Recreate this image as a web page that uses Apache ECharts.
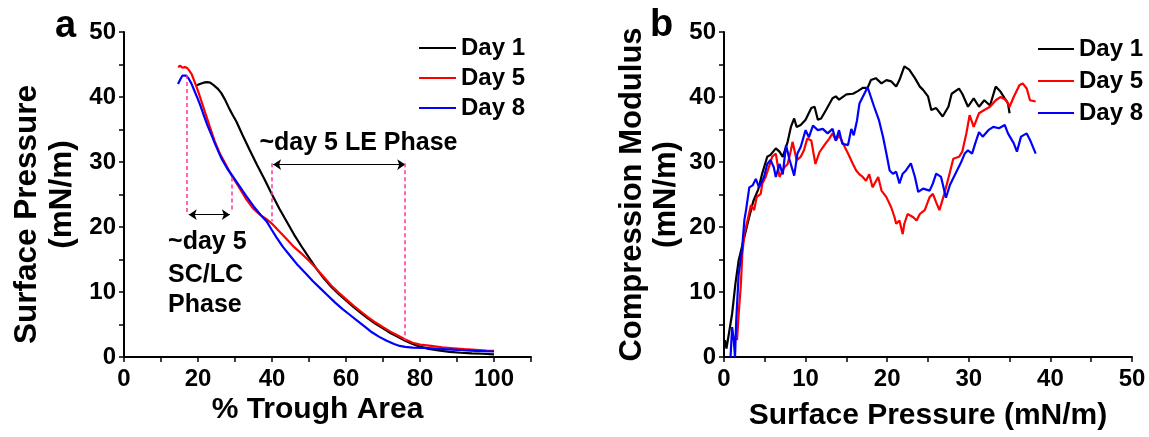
<!DOCTYPE html>
<html><head><meta charset="utf-8">
<script src="https://cdn.jsdelivr.net/npm/echarts@6/dist/echarts.min.js"></script>
<style>html,body{margin:0;padding:0;background:#fff}#c{width:1149px;height:437px}</style>
</head><body><div id="c"></div>
<script>
const seriesNames = ['Day 1', 'Day 5', 'Day 8'];
const seriesColors = ['#000000', '#ff0000', '#0000ff'];

// Panel a: % trough area vs surface pressure
const day1A = [[19.7,41.8],[20.5,42.0],[21.5,42.2],[22.4,42.3],[23.3,42.2],[24.3,41.8],[25.3,41.3],[26.3,40.6],[27.3,39.6],[28.3,38.4],[29.3,37.3],[30.4,36.2],[32,34.2],[34,31.8],[36,29.5],[38,27.3],[40,25.0],[42,22.8],[44,20.8],[46,18.8],[48,17.0],[50,15.3],[52,13.6],[54,12.1],[56,10.8],[58,9.7],[60,8.7],[62,7.7],[64,6.8],[66,5.9],[68,5.1],[70,4.4],[72,3.7],[74,3.1],[76,2.5],[78,2.0],[80,1.6],[82,1.3],[85,1.0],[88,0.8],[91,0.65],[94,0.55],[97,0.5],[100,0.4]];
const day5A = [[14.6,44.6],[15.2,44.8],[15.8,44.5],[16.4,44.6],[17.0,44.5],[17.6,44.1],[18.3,43.5],[18.9,42.6],[19.5,41.7],[20.2,40.6],[21,39.2],[22,37.5],[23.2,35.4],[24.5,33.2],[25.9,31.3],[27.5,29.6],[29,28.0],[31,26.2],[33,24.3],[35,22.8],[37,21.8],[38.5,21.2],[40.2,20.4],[42,19.3],[44,18.1],[46,16.9],[48,15.9],[50,14.8],[52,13.6],[54,12.3],[56,11.0],[58,9.9],[60,8.9],[62,7.9],[64,7.0],[66,6.1],[68,5.3],[70,4.6],[72,3.9],[74,3.3],[76,2.7],[78,2.2],[80,1.9],[83,1.7],[86,1.5],[89,1.35],[92,1.2],[95,1.1],[98,1.0],[100,0.95]];
const day8A = [[14.6,42.0],[15.2,42.7],[15.8,43.3],[16.3,43.6],[16.8,43.3],[17.5,42.8],[18.2,42.1],[19.0,41.0],[19.8,39.9],[20.5,38.9],[21.5,37.3],[22.5,35.7],[23.6,34.2],[24.9,32.4],[26.3,30.6],[27.9,29.0],[29.5,27.7],[31.3,26.2],[33,24.8],[35,23.2],[37,21.8],[38.5,20.9],[40,19.5],[41.2,18.4],[43,16.9],[45,15.5],[47,14.1],[49.2,12.8],[51,11.7],[53,10.6],[55,9.5],[57,8.4],[59,7.4],[61,6.5],[63,5.6],[65,4.7],[67,3.8],[69,3.1],[71,2.5],[73,2.0],[74.5,1.7],[76,1.55],[78,1.45],[81,1.4],[85,1.25],[90,1.1],[95,0.95],[100,0.85]];

// Panel b: surface pressure vs compression modulus
const day1B = [[0.12,2.6],[0.3,1.3],[0.6,3.6],[1.0,6.7],[1.4,11.3],[1.8,14.9],[2.5,18.5],[3.1,21.6],[3.6,24.0],[4.2,25.8],[4.7,28.3],[5.3,30.8],[5.7,31.1],[6.35,32.1],[6.8,31.6],[7.2,30.8],[7.8,33.1],[8.2,35.4],[8.6,36.7],[8.9,35.4],[9.4,35.7],[10.0,36.5],[10.7,38.3],[11.1,38.5],[11.5,36.5],[11.9,36.7],[12.5,38.0],[13.3,39.8],[13.7,40.1],[14.1,39.6],[15.0,40.4],[15.8,40.5],[16.4,40.9],[17.0,41.4],[17.6,41.4],[18.0,42.6],[18.6,42.9],[19.3,42.1],[19.9,42.6],[20.5,42.4],[21.1,41.6],[21.5,42.6],[22.1,44.7],[22.7,44.2],[23.4,42.9],[24.0,41.6],[24.4,41.1],[25.0,40.1],[25.4,38.0],[26.0,38.3],[26.8,37.0],[27.5,38.5],[27.9,40.5],[28.8,41.3],[29.2,40.5],[29.9,38.5],[30.6,39.8],[31.25,38.5],[31.9,39.5],[32.6,38.7],[33.3,41.6],[33.9,40.8],[34.8,39.0],[35.0,37.5]];
const day5B = [[1.6,2.6],[1.8,6.7],[2.05,10.8],[2.25,15.9],[2.5,19.0],[2.9,21.1],[3.3,23.4],[3.7,22.6],[4.0,24.6],[4.5,25.1],[4.7,26.7],[5.1,27.7],[5.5,29.2],[5.9,30.8],[6.35,31.3],[6.8,27.7],[7.4,29.2],[7.8,29.7],[8.2,31.8],[8.4,33.1],[8.9,30.3],[9.4,30.8],[9.8,31.8],[10.2,33.6],[10.7,33.3],[11.2,29.7],[11.7,31.5],[12.3,32.6],[12.9,33.6],[13.3,34.4],[13.7,33.3],[14.1,34.1],[14.8,32.3],[15.2,31.3],[15.8,29.7],[16.2,28.7],[16.6,28.1],[17.0,27.7],[17.4,27.1],[17.8,28.1],[18.2,26.1],[18.9,27.7],[19.3,25.6],[19.9,24.6],[20.5,23.0],[20.9,21.5],[21.1,20.5],[21.5,21.0],[21.9,18.9],[22.1,20.5],[22.5,22.0],[23.2,21.5],[23.6,21.0],[24.0,22.0],[24.6,22.6],[25.2,24.6],[25.6,25.1],[26.0,23.8],[26.4,22.6],[27.0,25.1],[27.6,28.0],[28.1,30.5],[28.8,30.8],[29.2,31.6],[29.7,34.4],[30.1,37.2],[30.6,35.4],[31.25,37.5],[31.9,38.0],[32.6,38.5],[33.3,39.5],[33.9,40.0],[34.6,39.5],[35.0,38.5],[35.5,40.0],[36.2,41.8],[36.6,42.1],[37.1,41.3],[37.5,39.5],[38.2,39.3]];
const day8B = [[0.8,0],[1.0,4.6],[1.2,2.6],[1.35,0],[1.5,5.6],[1.8,12.8],[2.2,16.4],[2.5,21.1],[2.7,22.6],[3.1,26.1],[3.5,26.4],[3.9,27.4],[4.3,26.1],[4.9,27.7],[5.3,29.7],[5.7,30.3],[6.1,29.2],[6.35,27.7],[6.8,29.7],[7.2,28.1],[7.6,32.6],[8.0,30.5],[8.6,27.9],[9.0,31.3],[9.4,32.3],[10.0,34.9],[10.4,33.8],[10.9,35.6],[11.5,34.9],[12.1,35.1],[12.7,34.4],[13.3,35.1],[13.7,33.3],[14.1,34.9],[14.5,32.8],[15.2,32.6],[15.6,35.1],[15.9,34.1],[16.3,36.4],[16.6,39.0],[17.0,40.0],[17.6,41.5],[18.0,40.0],[18.4,38.5],[19.0,36.4],[19.5,33.8],[19.9,31.3],[20.3,28.7],[20.7,28.2],[21.1,28.5],[21.5,26.7],[21.9,28.2],[22.3,28.7],[22.9,29.8],[23.4,27.7],[23.8,25.4],[24.4,25.9],[25.2,25.6],[25.6,26.7],[26.0,28.2],[26.6,27.7],[27.2,24.5],[27.7,26.5],[28.6,28.8],[29.0,29.8],[29.5,31.3],[29.9,31.8],[30.4,31.3],[30.8,32.9],[31.25,34.6],[31.7,33.9],[32.4,34.9],[33.0,35.4],[33.7,35.2],[34.4,35.7],[34.8,34.4],[35.5,32.9],[35.9,31.6],[36.4,33.9],[37.1,34.4],[37.5,33.4],[38.2,31.3]];

// Tick labels
const xLabelsA = [0, 20, 40, 60, 80, 100];
const xLabelsB = [0, 10, 20, 30, 40, 50];
const yLabels = [0, 10, 20, 30, 40, 50];

// Panel a annotations (data coordinates)
const phaseDashA = [[[16.9, 43.4], [16.9, 22.3]], [[29.0, 27.6], [29.0, 22.3]], [[40.0, 29.8], [40.0, 20.9]], [[76.0, 29.8], [76.0, 2.6]]];
const phaseArrowsA = [[[17.5, 21.9], [28.6, 21.9]], [[40.3, 29.6], [76.0, 29.6]]];
const annTextA = ['~day 5 LE Phase', '~day 5', 'SC/LC', 'Phase'];
const annXA = [36.6, 11.9, 11.9, 11.9];
const annYA = [32.9, 17.7, 12.6, 8.0];

const FONT = "'Liberation Sans', Arial, Helvetica, sans-serif";

function axis(extra, labels, margin) {
  return Object.assign({
    type: 'value',
    splitLine: { show: false },
    axisLine: { show: true, onZero: false, lineStyle: { color: '#000', width: 2 } },
    axisTick: { show: true, inside: false, length: 5, lineStyle: { color: '#000', width: 1.5 } },
    axisLabel: {
      color: '#000', fontSize: 24, fontWeight: 'bold', fontFamily: FONT, margin: margin,
      formatter: v => labels.indexOf(v) >= 0 ? String(v) : ''
    },
    nameMoveOverlap: false
  }, extra);
}

const nameStyle = { color: '#000', fontSize: 30, fontWeight: 'bold', fontFamily: FONT };

const chart = echarts.init(document.getElementById('c'));
const lineSeries = [];
[[day1A, day5A, day8A], [day1B, day5B, day8B]].forEach((set, gi) => {
  set.forEach((d, si) => {
    lineSeries.push({
      type: 'line', name: seriesNames[si], xAxisIndex: gi, yAxisIndex: gi,
      data: d, symbol: 'none', showSymbol: false, animation: false, silent: true,
      lineStyle: { color: seriesColors[si], width: 2.2 }, itemStyle: { color: seriesColors[si] },
      z: 2 + si
    });
  });
});

lineSeries[1].markLine = {
  silent: true, animation: false, symbol: ['none', 'none'],
  label: { show: false },
  lineStyle: { color: '#ff3399', width: 1.5, type: [4, 3] },
  data: phaseDashA.map(p => [{ coord: p[0] }, { coord: p[1] }])
};
lineSeries[0].markLine = {
  silent: true, animation: false, symbol: ['arrow', 'arrow'], symbolSize: 8,
  label: { show: false },
  lineStyle: { color: '#000', width: 1, type: 'solid' },
  data: phaseArrowsA.map(p => [{ coord: p[0] }, { coord: p[1] }])
};

const legendBase = {
  data: seriesNames, orient: 'vertical', itemHeight: 2, icon: 'rect',
  textStyle: { color: '#000', fontSize: 24, fontWeight: 'bold', fontFamily: FONT, lineHeight: 24 },
  selectedMode: false, padding: 0
};

chart.setOption({
  backgroundColor: '#fff',
  animation: false,
  title: [
    { text: 'a', left: 55, top: 8, padding: 0, textStyle: { fontSize: 38, fontWeight: 'bold', color: '#000', fontFamily: FONT } },
    { text: 'b', left: 650, top: 7, padding: 0, textStyle: { fontSize: 38, fontWeight: 'bold', color: '#000', fontFamily: FONT } }
  ],
  legend: [
    Object.assign({}, legendBase, { left: 419, top: 36, itemWidth: 37, itemGap: 6 }),
    Object.assign({}, legendBase, { left: 1038, top: 37, itemWidth: 36, itemGap: 8 })
  ],
  grid: [
    { left: 124, top: 32, width: 407, height: 325, containLabel: false, outerBoundsMode: 'none' },
    { left: 724, top: 32, width: 408, height: 325, containLabel: false, outerBoundsMode: 'none' }
  ],
  xAxis: [
    axis({ gridIndex: 0, min: 0, max: 110, interval: 10, name: '% Trough Area', nameLocation: 'middle', nameGap: 38,
      nameTextStyle: Object.assign({}, nameStyle, { padding: [0, 20, 0, 0] }) }, xLabelsA, 10),
    axis({ gridIndex: 1, min: 0, max: 50, interval: 5, name: 'Surface Pressure (mN/m)', nameLocation: 'middle', nameGap: 44,
      nameTextStyle: nameStyle }, xLabelsB, 10)
  ],
  yAxis: [
    axis({ gridIndex: 0, min: 0, max: 50, interval: 5, name: '{a|Surface Pressure}\n{b|(mN/m)}', nameLocation: 'middle',
      nameRotate: 90, nameGap: 44,
      nameTextStyle: { rich: {
        a: Object.assign({}, nameStyle, { fontSize: 31.5, lineHeight: 35, padding: [0, 40, 0, 0] }),
        b: Object.assign({}, nameStyle, { fontSize: 31.5, lineHeight: 35 }) } } }, yLabels, 8),
    axis({ gridIndex: 1, min: 0, max: 50, interval: 5, name: '{a|Compression Modulus}\n{b|(mN/m)}', nameLocation: 'middle',
      nameRotate: 90, nameGap: 41,
      nameTextStyle: { rich: {
        a: Object.assign({}, nameStyle, { fontSize: 31, lineHeight: 34 }),
        b: Object.assign({}, nameStyle, { fontSize: 31, lineHeight: 34 }) } } }, yLabels, 8)
  ],
  series: lineSeries
});

// annotation texts anchored in data coordinates of panel a
chart.setOption({
  graphic: annTextA.map((t, i) => {
    const p = chart.convertToPixel({ gridIndex: 0 }, [annXA[i], annYA[i]]);
    return {
      type: 'text', x: p[0], y: p[1], silent: true, z: 100,
      style: { text: t, fill: '#000', font: 'bold 25px ' + FONT, textAlign: 'left', textVerticalAlign: 'middle' }
    };
  })
});
</script>
</body></html>
